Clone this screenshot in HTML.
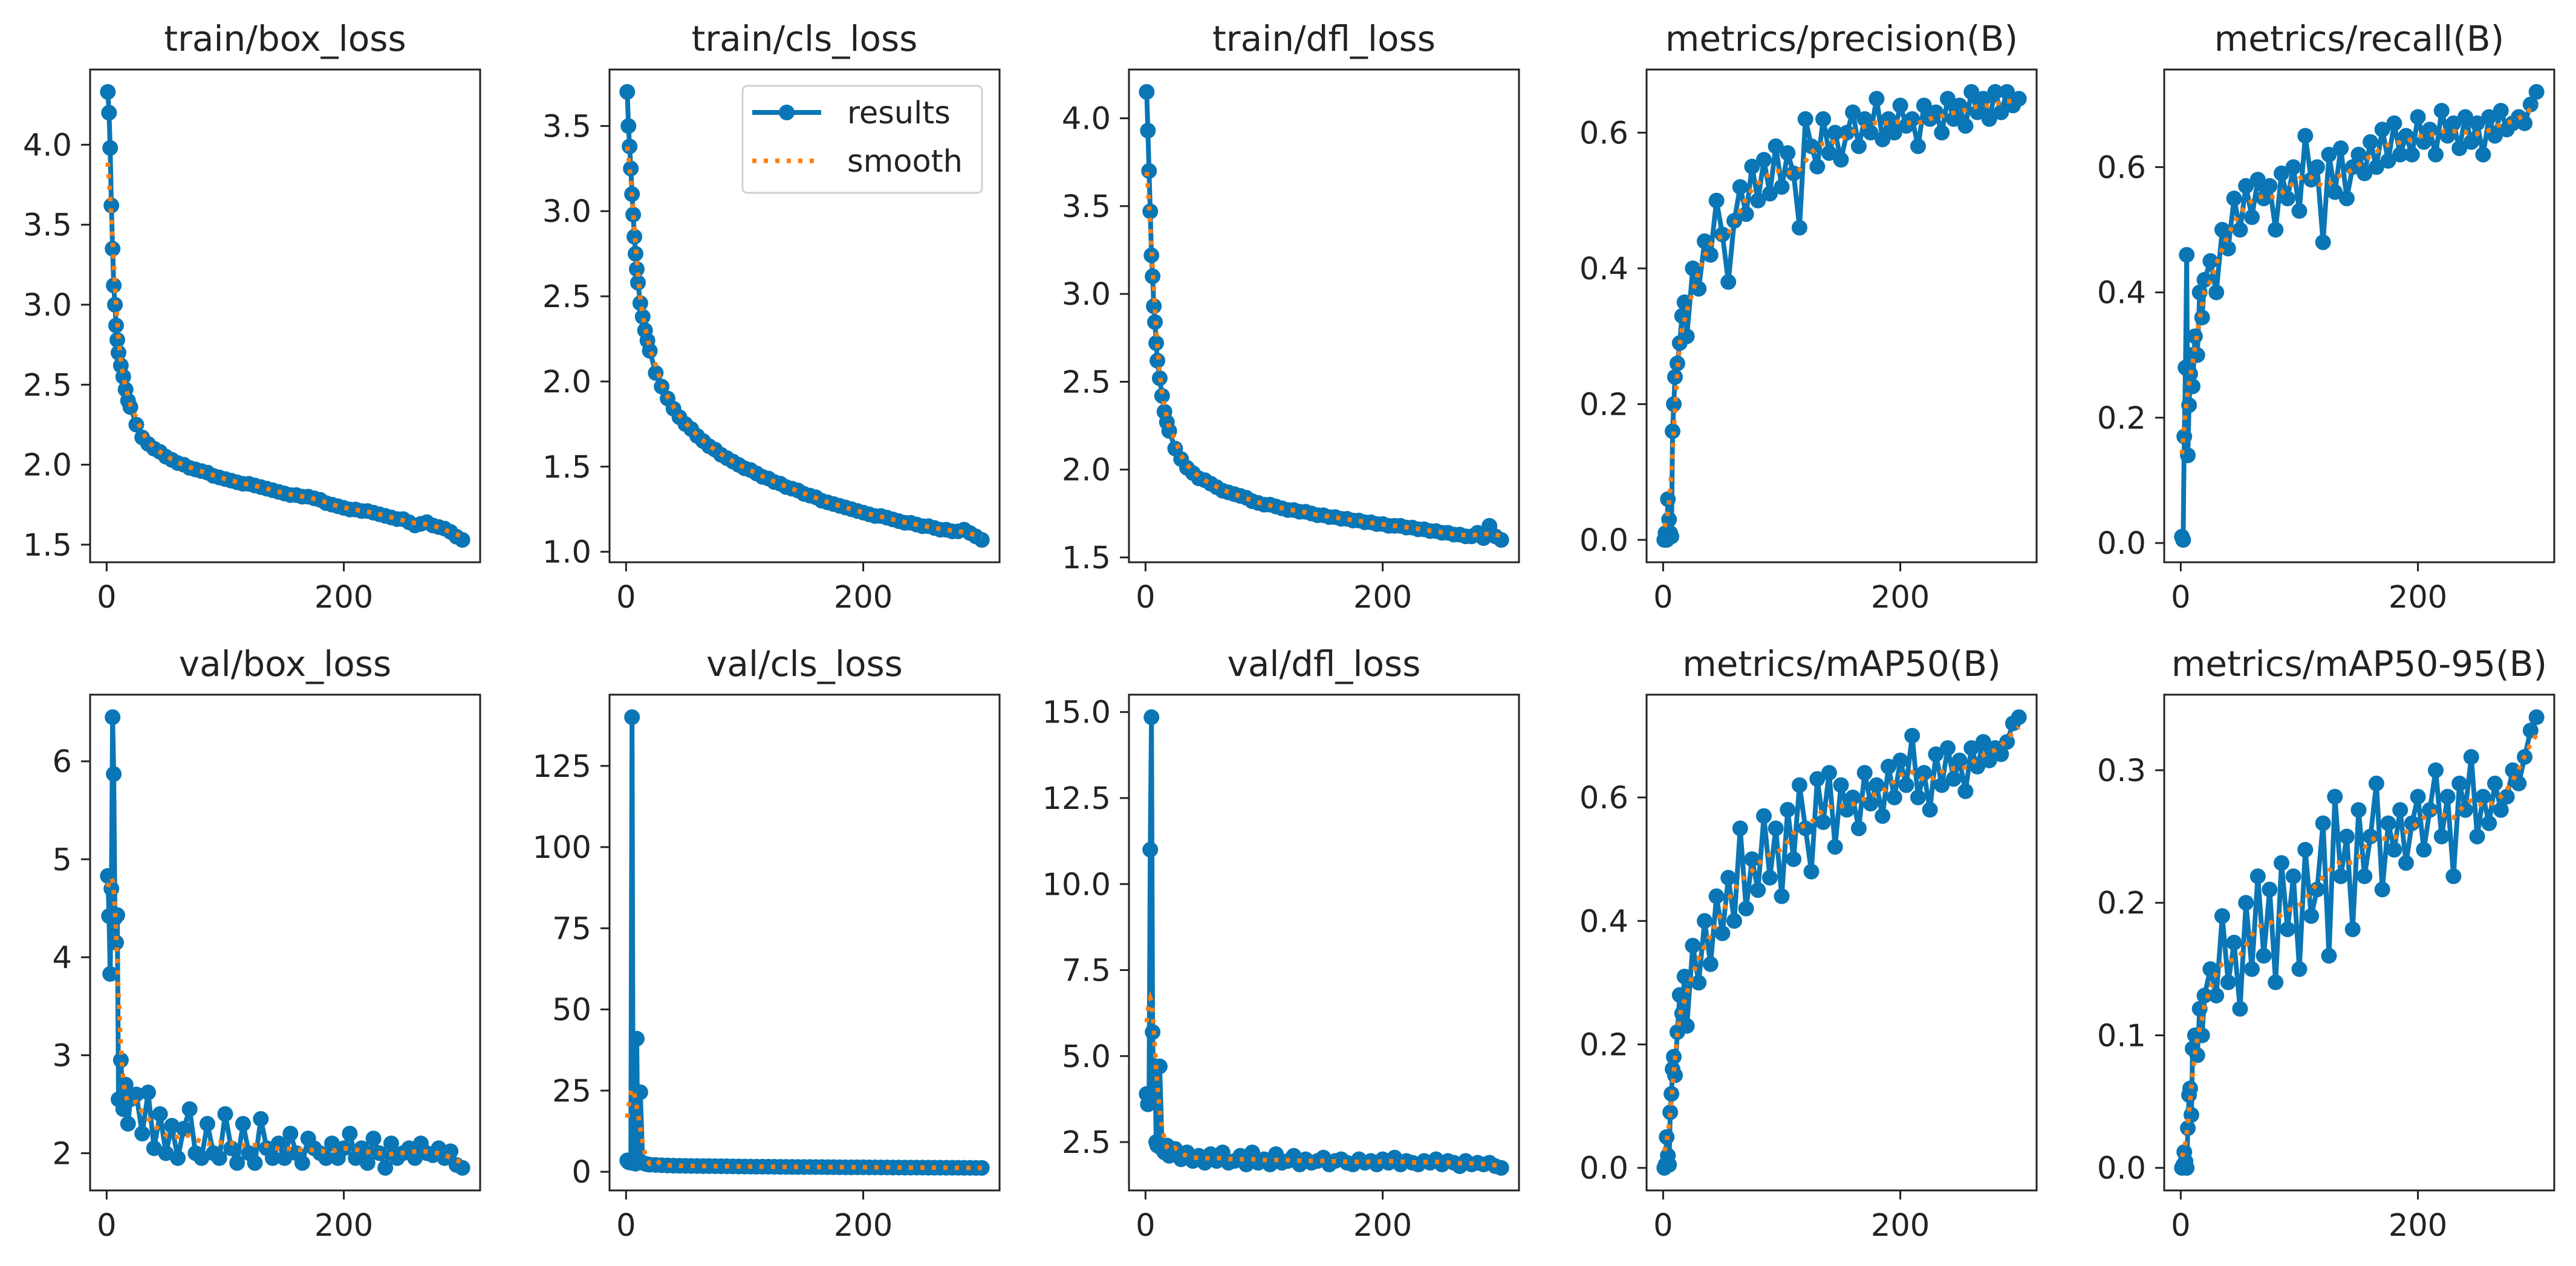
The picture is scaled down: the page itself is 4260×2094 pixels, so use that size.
<!DOCTYPE html>
<html><head><meta charset="utf-8"><title>Training results</title>
<style>
html,body{margin:0;padding:0;background:#fff;}
svg{display:block;font-family:"DejaVu Sans","Liberation Sans",sans-serif;}
</style></head>
<body>
<svg id="fig" width="4260" height="2094" viewBox="0 0 4260 2094" xmlns="http://www.w3.org/2000/svg">
<rect width="4260" height="2094" fill="#fff"/>
</svg>
<script>
// ---------- data ----------
const epochs = [1,2,3,4,5,6,7,8,9,10,12,14,16,18,20,
25,30,35,40,45,50,55,60,65,70,75,80,85,90,95,100,
105,110,115,120,125,130,135,140,145,
150,155,160,165,170,175,180,185,190,
195,200,205,210,215,220,225,230,235,
240,245,250,255,260,265,270,275,280,285,
290,295,300];
const xTickValues = [0, 200];
const xTickLabels = ["0", "200"];
const chartTitles = ["train/box_loss","train/cls_loss","train/dfl_loss","metrics/precision(B)","metrics/recall(B)",
"val/box_loss","val/cls_loss","val/dfl_loss","metrics/mAP50(B)","metrics/mAP50-95(B)"];

const trainBoxLoss = [4.33,4.20,3.98,3.62,3.35,3.12,3.00,2.87,2.78,2.70,2.62,2.55,2.47,2.40,2.36,
2.25,2.17,2.13,2.10,2.08,2.05,2.03,2.01,2.00,1.98,1.97,1.96,1.95,1.93,1.92,1.91,
1.90,1.89,1.88,1.88,1.87,1.86,1.85,1.84,1.83,
1.82,1.81,1.81,1.80,1.80,1.79,1.78,1.76,1.75,
1.74,1.73,1.72,1.72,1.71,1.71,1.70,1.69,1.68,
1.67,1.66,1.66,1.64,1.62,1.63,1.64,1.62,1.61,1.60,
1.58,1.55,1.53];
const trainClsLoss = [3.70,3.50,3.38,3.25,3.10,2.98,2.85,2.75,2.66,2.58,2.46,2.38,2.30,2.24,2.18,
2.05,1.97,1.90,1.84,1.79,1.75,1.72,1.68,1.65,1.62,1.60,1.57,1.55,1.53,1.51,1.49,
1.48,1.46,1.44,1.43,1.41,1.40,1.38,1.37,1.36,
1.34,1.33,1.32,1.30,1.29,1.28,1.27,1.26,1.25,
1.24,1.23,1.22,1.21,1.21,1.20,1.19,1.18,1.17,
1.17,1.16,1.15,1.15,1.14,1.13,1.13,1.12,1.12,1.13,
1.11,1.09,1.07];
const trainDflLoss = [4.15,3.93,3.70,3.47,3.22,3.10,2.93,2.84,2.72,2.62,2.52,2.42,2.33,2.27,2.22,
2.12,2.06,2.01,1.98,1.95,1.94,1.92,1.90,1.88,1.87,1.86,1.85,1.84,1.82,1.81,1.80,
1.80,1.79,1.78,1.77,1.77,1.76,1.76,1.75,1.74,
1.74,1.73,1.73,1.72,1.72,1.71,1.71,1.70,1.70,
1.69,1.69,1.68,1.68,1.68,1.67,1.67,1.66,1.66,
1.65,1.65,1.64,1.64,1.63,1.63,1.62,1.62,1.64,1.61,
1.68,1.62,1.60];
const precision = [0.0,0.01,0.0,0.06,0.03,0.01,0.005,0.16,0.20,0.24,0.26,0.29,0.33,0.35,0.30,
0.40,0.37,0.44,0.42,0.50,0.45,0.38,0.47,0.52,0.48,0.55,0.50,0.56,0.51,0.58,0.52,
0.57,0.54,0.46,0.62,0.58,0.55,0.62,0.57,0.60,
0.56,0.60,0.63,0.58,0.62,0.60,0.65,0.59,0.62,
0.60,0.64,0.61,0.62,0.58,0.64,0.62,0.63,0.60,
0.65,0.62,0.64,0.61,0.66,0.63,0.65,0.62,0.66,0.63,
0.66,0.64,0.65];
const recall = [0.01,0.005,0.17,0.28,0.46,0.14,0.22,0.27,0.30,0.25,0.33,0.30,0.40,0.36,0.42,
0.45,0.40,0.50,0.47,0.55,0.50,0.57,0.52,0.58,0.55,0.57,0.50,0.59,0.55,0.60,0.53,
0.65,0.58,0.60,0.48,0.62,0.56,0.63,0.55,0.60,
0.62,0.59,0.64,0.60,0.66,0.61,0.67,0.62,0.65,
0.62,0.68,0.64,0.66,0.62,0.69,0.65,0.67,0.63,
0.68,0.64,0.67,0.62,0.68,0.65,0.69,0.66,0.67,0.68,
0.67,0.70,0.72];
const valBoxLoss = [4.83,4.42,3.83,4.70,6.45,5.87,4.40,4.15,4.43,2.55,2.95,2.45,2.70,2.30,2.55,
2.60,2.20,2.62,2.05,2.40,2.00,2.28,1.95,2.25,2.45,2.00,1.95,2.30,2.00,1.95,2.40,
2.05,1.90,2.30,2.00,1.90,2.35,2.05,1.95,2.10,
1.95,2.20,2.00,1.90,2.15,2.05,2.00,1.95,2.10,
1.95,2.05,2.20,1.95,2.05,1.90,2.15,2.00,1.85,
2.10,1.95,2.00,2.05,1.95,2.10,2.00,1.98,2.05,1.95,
2.02,1.88,1.85];
const valClsLoss = [3.5,3.0,3.2,2.8,140,3.5,3.0,2.5,41,3.0,24.5,2.8,2.5,2.3,2.2,
2.1,2.0,1.95,1.9,1.85,1.82,1.8,1.78,1.76,1.74,1.72,1.70,1.68,1.66,1.64,1.62,
1.60,1.58,1.57,1.55,1.54,1.52,1.51,1.50,1.48,
1.47,1.46,1.45,1.44,1.43,1.42,1.41,1.40,1.39,
1.38,1.37,1.36,1.35,1.34,1.33,1.32,1.31,1.30,
1.30,1.29,1.28,1.27,1.27,1.26,1.25,1.25,1.24,1.23,
1.22,1.21,1.20];
const valDflLoss = [3.9,3.6,3.8,11.0,14.85,5.7,3.8,4.7,2.5,2.4,4.7,2.3,2.2,2.4,2.1,
2.3,2.0,2.2,1.95,2.1,1.9,2.15,1.95,2.2,1.9,1.95,2.1,1.85,2.2,1.9,2.0,
1.85,2.15,1.9,1.95,2.1,1.85,2.0,1.9,1.95,
2.05,1.85,1.95,2.0,1.9,1.85,2.0,1.9,1.95,
1.85,2.0,1.9,2.05,1.85,1.95,1.9,1.85,1.95,
1.9,2.0,1.85,1.95,1.9,1.8,1.95,1.85,1.9,1.85,
1.9,1.8,1.75];
const mAP50 = [0.0,0.005,0.05,0.02,0.005,0.09,0.12,0.16,0.18,0.15,0.22,0.28,0.25,0.31,0.23,
0.36,0.30,0.40,0.33,0.44,0.38,0.47,0.40,0.55,0.42,0.50,0.45,0.57,0.47,0.55,0.44,
0.58,0.50,0.62,0.55,0.48,0.63,0.56,0.64,0.52,
0.62,0.58,0.60,0.55,0.64,0.59,0.62,0.57,0.65,
0.60,0.66,0.62,0.70,0.60,0.64,0.58,0.67,0.62,
0.68,0.63,0.66,0.61,0.68,0.65,0.69,0.66,0.68,0.67,
0.69,0.72,0.73];
const mAP5095 = [0.0,0.002,0.012,0.005,0.0,0.03,0.055,0.06,0.04,0.09,0.10,0.085,0.12,0.10,0.13,
0.15,0.13,0.19,0.14,0.17,0.12,0.20,0.15,0.22,0.16,0.21,0.14,0.23,0.18,0.22,0.15,
0.24,0.19,0.21,0.26,0.16,0.28,0.22,0.25,0.18,
0.27,0.22,0.25,0.29,0.21,0.26,0.24,0.27,0.23,
0.26,0.28,0.24,0.27,0.30,0.25,0.28,0.22,0.29,
0.27,0.31,0.25,0.28,0.26,0.29,0.27,0.28,0.30,0.29,
0.31,0.33,0.34];

const yTickLabels0 = ["1.5","2.0","2.5","3.0","3.5","4.0"];
const yTickLabels1 = ["1.0","1.5","2.0","2.5","3.0","3.5"];
const yTickLabels2 = ["1.5","2.0","2.5","3.0","3.5","4.0"];
const yTickLabels3 = ["0.0","0.2","0.4","0.6"];
const yTickLabels4 = ["0.0","0.2","0.4","0.6"];
const yTickLabels5 = ["2","3","4","5","6"];
const yTickLabels6 = ["0","25","50","75","100","125"];
const yTickLabels7 = ["2.5","5.0","7.5","10.0","12.5","15.0"];
const yTickLabels8 = ["0.0","0.2","0.4","0.6"];
const yTickLabels9 = ["0.0","0.1","0.2","0.3"];

const seriesList = [trainBoxLoss,trainClsLoss,trainDflLoss,precision,recall,valBoxLoss,valClsLoss,valDflLoss,mAP50,mAP5095];
const tickList = [yTickLabels0,yTickLabels1,yTickLabels2,yTickLabels3,yTickLabels4,yTickLabels5,yTickLabels6,yTickLabels7,yTickLabels8,yTickLabels9];
const slugs = ["train-box-loss","train-cls-loss","train-dfl-loss","precision","recall","val-box-loss","val-cls-loss","val-dfl-loss","map50","map50-95"];

// ---------- layout ----------
const NS = "http://www.w3.org/2000/svg";
const svg = document.getElementById("fig");
const colLeft = [149,1008,1867,2723,3579];
const rowTop = [115,1149];
const rowBottom = [930,1969];
const AW = 645;
const BLUE = "#0a76b5", ORANGE = "#ff7f0e", INK = "#222";

function mk(tag, attrs, parent){
  const e = document.createElementNS(NS, tag);
  for (const k in attrs) e.setAttribute(k, attrs[k]);
  (parent||svg).appendChild(e);
  return e;
}
function smoothSeries(xs, ys){
  return xs.map(function(x0){
    const s = x0 <= 20 ? 3 : 8;
    let w = 0, v = 0;
    for (let j = 0; j < ys.length; j++){
      const dx = j > 0 ? xs[j]-xs[j-1] : 1;
      const g = Math.exp(-0.5*Math.pow((xs[j]-x0)/s,2))*dx;
      w += g; v += g*ys[j];
    }
    return v/w;
  });
}

for (let c = 0; c < 10; c++){
  const r = Math.floor(c/5), col = c%5;
  const L = colLeft[col], T = rowTop[r], B = rowBottom[r], R = L+AW;
  const ys = seriesList[c];
  const n = Math.min(ys.length, epochs.length);
  const xs = epochs.slice(0,n), yv = ys.slice(0,n);
  const xmin = Math.min.apply(null,xs), xmax = Math.max.apply(null,xs);
  const xr = xmax-xmin, x0 = xmin-0.05*xr, x1 = xmax+0.05*xr;
  const ymin = Math.min.apply(null,yv), ymax = Math.max.apply(null,yv);
  const yr = ymax-ymin, y0 = ymin-0.05*yr, y1 = ymax+0.05*yr;
  const sx = v => L + (v-x0)/(x1-x0)*AW;
  const sy = v => B - (v-y0)/(y1-y0)*(B-T);

  const g = mk("g", {});
  
  

  const title = mk("text", {x:(L+R)/2, y:T-31, "text-anchor":"middle", "font-size":58, fill:INK}, g);
  title.textContent = chartTitles[c];
  
  

  const pts = xs.map((x,i)=> sx(x).toFixed(1)+","+sy(yv[i]).toFixed(1));
  const line = mk("polyline", {points:pts.join(" "), fill:"none", stroke:BLUE, "stroke-width":8, "stroke-linejoin":"round"}, g);
  
  
  for (let i = 0; i < n; i++){
    const m = mk("circle", {cx:sx(xs[i]).toFixed(1), cy:sy(yv[i]).toFixed(1), r:13, fill:BLUE}, g);
    
    
  }
  const sm = smoothSeries(xs, yv);
  const spts = xs.map((x,i)=> sx(x).toFixed(1)+","+sy(sm[i]).toFixed(1));
  const sl = mk("polyline", {points:spts.join(" "), fill:"none", stroke:ORANGE, "stroke-width":7.5, "stroke-dasharray":"7,12"}, g);
  
  

  const fr = mk("rect", {x:L, y:T, width:AW, height:B-T, fill:"none", stroke:INK, "stroke-width":3}, g);
  
  

  for (let k = 0; k < xTickValues.length; k++){
    const X = sx(xTickValues[k]);
    mk("line", {x1:X, y1:B, x2:X, y2:B+15, stroke:INK, "stroke-width":3}, g);
    const t = mk("text", {x:X, y:B+75, "text-anchor":"middle", "font-size":51, fill:INK}, g);
    t.textContent = xTickLabels[k];
    
    
  }
  const labels = tickList[c];
  for (let k = 0; k < labels.length; k++){
    const Y = sy(parseFloat(labels[k]));
    mk("line", {x1:L-15, y1:Y, x2:L, y2:Y, stroke:INK, "stroke-width":3}, g);
    const t = mk("text", {x:L-30, y:Y+18, "text-anchor":"end", "font-size":51, fill:INK}, g);
    t.textContent = labels[k];
    
    
  }
}

const lg = mk("g", {});


mk("rect", {x:1228, y:142, width:396, height:177, rx:8, fill:"#fff", "fill-opacity":0.8, stroke:"#d0d0d0", "stroke-width":3}, lg);
const le1 = mk("g", {}, lg);


mk("line", {x1:1244, y1:186, x2:1358, y2:186, stroke:BLUE, "stroke-width":8}, le1);
mk("circle", {cx:1301, cy:186, r:13, fill:BLUE}, le1);
const t1 = mk("text", {x:1401, y:204, "font-size":51, fill:INK}, le1);
t1.textContent = "results";
const le2 = mk("g", {}, lg);


mk("line", {x1:1244, y1:266, x2:1358, y2:266, stroke:ORANGE, "stroke-width":7.5, "stroke-dasharray":"7,12"}, le2);
const t2 = mk("text", {x:1401, y:284, "font-size":51, fill:INK}, le2);
t2.textContent = "smooth";
</script>
</body></html>
